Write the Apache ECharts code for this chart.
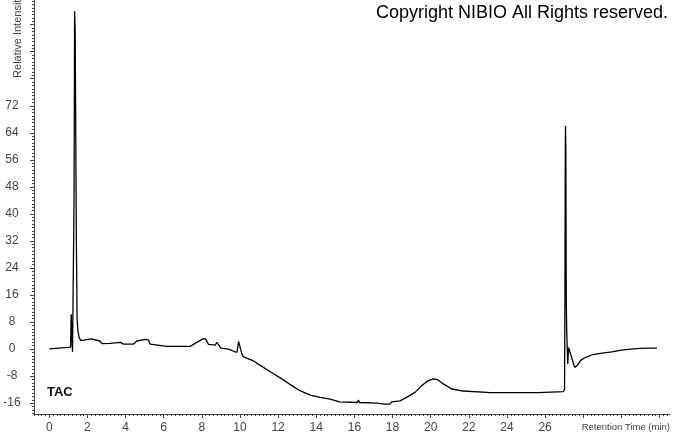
<!DOCTYPE html>
<html><head><meta charset="utf-8">
<script src="https://cdn.jsdelivr.net/npm/echarts@6/dist/echarts.min.js"></script>
<style>html,body{margin:0;padding:0;background:#fff}#c{width:674px;height:434px}</style>
</head><body><div id="c"></div>
<script>
// Retention time (min)
const times = [0.0,0.5,1.0,1.12,1.15,1.19,1.22,1.27,1.30,1.33,1.36,1.40,1.42,1.46,1.50,1.57,1.66,1.75,2.2,2.66,2.76,3.2,3.72,3.9,4.42,4.6,5.03,5.2,5.29,6.17,7.39,7.74,8.09,8.2,8.35,8.7,8.79,9.0,9.4,9.84,9.93,9.99,10.1,10.19,10.71,11.23,11.76,12.28,12.8,13.15,13.68,14.2,14.73,15.22,16.15,16.21,16.27,17.17,17.6,17.87,17.96,18.4,18.83,19.18,19.53,19.88,20.14,20.35,20.67,21.1,21.71,22.94,23.0,23.1,25.64,25.73,26.95,27.02,27.04,27.06,27.07,27.09,27.11,27.13,27.16,27.19,27.23,27.3,27.42,27.55,27.7,27.85,28.1,28.5,29.0,29.5,30.0,30.5,31.0,31.5,31.87];
// Relative intensity
const intensity = [0.1,0.3,0.5,0.6,10.3,3.0,-0.8,-0.8,44,100,94,94,33,9,5.4,3.4,2.5,2.7,3.0,2.4,1.6,1.7,2.0,1.5,1.5,2.4,2.9,2.7,1.5,0.8,0.8,2.0,3.1,3.0,1.4,1.2,2.0,0.3,0.0,-1.0,2.3,2.3,-1.5,-2.3,-3.5,-5.4,-7.3,-9.1,-11.1,-12.3,-13.6,-14.3,-14.8,-15.6,-15.8,-15.1,-15.8,-16.0,-16.3,-16.3,-15.6,-15.3,-14.0,-12.8,-10.8,-9.3,-8.8,-9.0,-10.3,-11.8,-12.4,-12.8,-12.6,-12.9,-12.9,-12.6,-12.6,-12.0,15,58,66,58,15,6.5,0.5,-4.4,0.5,0.2,-3,-5.4,-4.8,-3.4,-2.5,-1.6,-1.2,-0.8,-0.3,0.0,0.2,0.3,0.3];
// Tick labels
const xTickLabels = [0,2,4,6,8,10,12,14,16,18,20,22,24,26];
const yTickLabels = [-16,-8,0,8,16,24,32,40,48,56,64,72];

const X_MIN = -0.8, X_MAX = 32.55, Y_MIN = -19.2, Y_MAX = 103.3;
const xMajor = [], xMinor = [], yMajor = [], yMinor = [];
for (let i = 0; i <= 32; i += 2) xMajor.push(i);
for (let i = -4; i <= 162; i++) xMinor.push(+(i * 0.2).toFixed(2));
for (let i = -16; i <= 96; i += 8) yMajor.push(i);
for (let i = -19; i <= 103; i++) yMinor.push(i);

const data = times.map((t, i) => [t, intensity[i]]);
const FONT = '"Liberation Sans", Arial, sans-serif';
const axisColor = '#444';
const labelColor = '#444';

const chart = echarts.init(document.getElementById('c'), null, {renderer: 'canvas'});
chart.setOption({
  animation: false,
  backgroundColor: '#fff',
  grid: {left: 34, right: 4, top: 0, bottom: 20, containLabel: false},
  xAxis: [
    {type: 'value', min: X_MIN, max: X_MAX, position: 'bottom',
     axisLine: {show: true, onZero: false, lineStyle: {color: axisColor, width: 1}},
     axisTick: {show: true, length: 4, customValues: xMajor, lineStyle: {color: axisColor}},
     axisLabel: {show: true, customValues: xTickLabels, margin: 8, fontSize: 12, color: labelColor, fontFamily: FONT},
     splitLine: {show: false}},
    {type: 'value', min: X_MIN, max: X_MAX, position: 'bottom',
     axisLine: {show: false, onZero: false},
     axisTick: {show: true, length: 2, customValues: xMinor, lineStyle: {color: axisColor}},
     axisLabel: {show: false}, splitLine: {show: false}}
  ],
  yAxis: [
    {type: 'value', min: Y_MIN, max: Y_MAX, position: 'left',
     axisLine: {show: true, onZero: false, lineStyle: {color: axisColor, width: 1}},
     axisTick: {show: true, length: 4, customValues: yMajor, lineStyle: {color: axisColor}},
     axisLabel: {show: true, customValues: yTickLabels, margin: 22, align: 'center', fontSize: 12, color: labelColor, fontFamily: FONT},
     splitLine: {show: false}},
    {type: 'value', min: Y_MIN, max: Y_MAX, position: 'left',
     axisLine: {show: false, onZero: false},
     axisTick: {show: true, length: 2, customValues: yMinor, lineStyle: {color: axisColor}},
     axisLabel: {show: false}, splitLine: {show: false}}
  ],
  series: [{
    type: 'line', xAxisIndex: 0, yAxisIndex: 0, data: data,
    showSymbol: false, symbol: 'none',
    lineStyle: {color: '#000', width: 1.3}, silent: true
  }],
  graphic: [
    {type: 'text', right: 6, top: 4, style: {text: 'Copyright NIBIO All Rights reserved.', fontSize: 18, fontFamily: FONT, fill: '#000'}},
    {type: 'text', left: 47, top: 386, style: {text: 'TAC', fontSize: 13, fontWeight: 'bold', fontFamily: FONT, fill: '#111'}},
    {type: 'text', right: 4, top: 422, style: {text: 'Retention Time (min)', fontSize: 9.5, fontFamily: FONT, fill: '#444'}},
    {type: 'text', x: 18, y: 36, rotation: Math.PI / 2, style: {text: 'Relative Intensity', fontSize: 11, fontFamily: FONT, fill: '#444', align: 'center', verticalAlign: 'middle'}}
  ]
});
</script></body></html>
